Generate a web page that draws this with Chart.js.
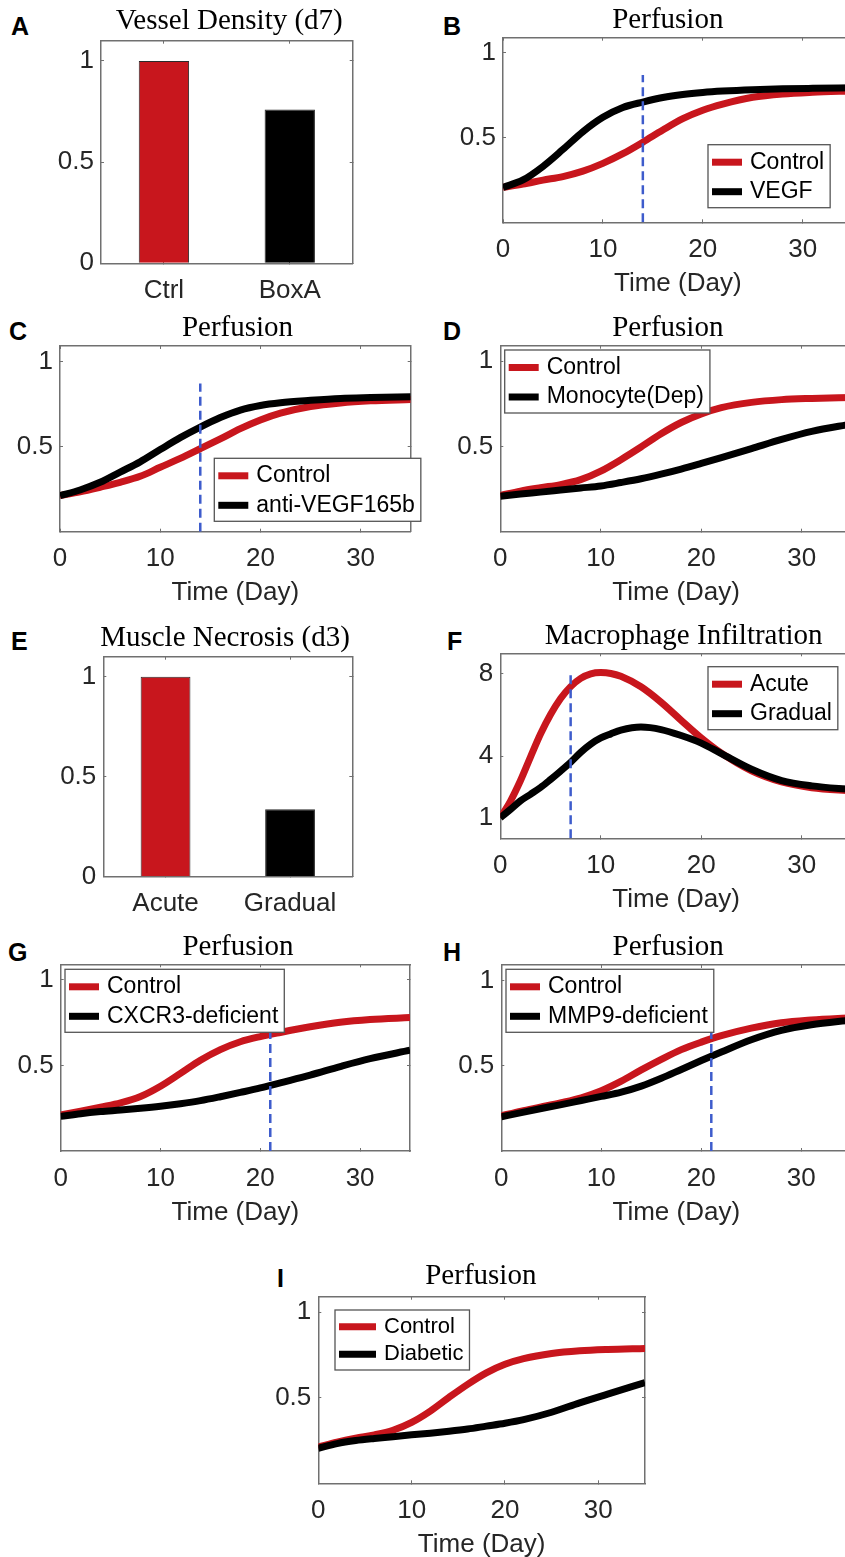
<!DOCTYPE html>
<html>
<head>
<meta charset="utf-8">
<script src="https://cdn.jsdelivr.net/npm/chart.js@4.4.1/dist/chart.umd.min.js"></script>
<style>
html, body { margin: 0; padding: 0; width: 845px; height: 1557px; overflow: hidden; background: #fff; }
canvas { position: absolute; }
.tag { position: absolute; font: bold 25px 'Liberation Sans', Arial, sans-serif; line-height: 1; color: #000; }
</style>
</head>
<body>
<div class="tag" style="left:11px;top:14px">A</div>
<div class="tag" style="left:443px;top:14px">B</div>
<div class="tag" style="left:9px;top:319px">C</div>
<div class="tag" style="left:443px;top:319px">D</div>
<div class="tag" style="left:11px;top:629px">E</div>
<div class="tag" style="left:447px;top:629px">F</div>
<div class="tag" style="left:8px;top:940px">G</div>
<div class="tag" style="left:443px;top:940px">H</div>
<div class="tag" style="left:277px;top:1266px">I</div>
<script>
// ---- data ----
const dayTicks = [0, 10, 20, 30];
const perfTicks = [0.5, 1];
const barTicks = [0, 0.5, 1];
const macTicks = [1, 4, 8];

const days = [0, 2, 4, 6, 8, 10, 12, 14, 16, 18, 20, 22, 25, 28, 31, 35];

const aLabels = ['Ctrl', 'BoxA'];
const aValues = [1, 0.76];
const eLabels = ['Acute', 'Gradual'];
const eValues = [1, 0.337];

const bControl = [0.206, 0.226, 0.249, 0.270, 0.302, 0.348, 0.405, 0.473, 0.545, 0.612, 0.662, 0.698, 0.738, 0.758, 0.768, 0.776];
const bVEGF    = [0.206, 0.250, 0.330, 0.430, 0.535, 0.620, 0.678, 0.710, 0.737, 0.755, 0.767, 0.775, 0.783, 0.788, 0.791, 0.794];

const cControl  = [0.212, 0.234, 0.261, 0.290, 0.325, 0.378, 0.430, 0.487, 0.545, 0.605, 0.656, 0.696, 0.735, 0.756, 0.768, 0.776];
const cAntiVEGF = [0.212, 0.245, 0.290, 0.350, 0.410, 0.482, 0.552, 0.614, 0.670, 0.714, 0.741, 0.757, 0.771, 0.782, 0.787, 0.792];

const dControl  = [0.212, 0.238, 0.258, 0.276, 0.305, 0.355, 0.422, 0.496, 0.574, 0.640, 0.690, 0.727, 0.758, 0.774, 0.781, 0.787];
const dMonocyte = [0.208, 0.221, 0.232, 0.244, 0.256, 0.268, 0.288, 0.310, 0.337, 0.367, 0.400, 0.434, 0.487, 0.541, 0.588, 0.632];

const fDays    = [0, 1, 2, 3, 4, 5, 6, 7, 8, 9, 10, 11, 12, 14, 16, 18, 20, 22, 25, 28, 31, 35];
const fAcute   = [1.0, 1.8, 2.8, 3.95, 5.07, 6.02, 6.8, 7.38, 7.78, 8.0, 8.06, 8.02, 7.88, 7.37, 6.62, 5.74, 4.88, 4.14, 3.28, 2.74, 2.46, 2.30];
const fGradual = [1.0, 1.4, 1.82, 2.14, 2.47, 2.86, 3.27, 3.7, 4.18, 4.58, 4.88, 5.08, 5.26, 5.41, 5.29, 5.0, 4.63, 4.12, 3.36, 2.81, 2.55, 2.37];

const gControl = [0.210, 0.232, 0.256, 0.281, 0.318, 0.378, 0.453, 0.530, 0.592, 0.638, 0.668, 0.692, 0.725, 0.752, 0.768, 0.779];
const gCXCR3   = [0.202, 0.218, 0.230, 0.239, 0.249, 0.261, 0.276, 0.294, 0.317, 0.342, 0.368, 0.398, 0.443, 0.493, 0.539, 0.588];

const hControl = [0.206, 0.234, 0.258, 0.283, 0.312, 0.353, 0.409, 0.475, 0.537, 0.594, 0.638, 0.676, 0.720, 0.752, 0.768, 0.781];
const hMMP9    = [0.200, 0.225, 0.249, 0.272, 0.296, 0.320, 0.345, 0.380, 0.426, 0.478, 0.530, 0.580, 0.652, 0.707, 0.740, 0.768];

const iControl  = [0.212, 0.240, 0.264, 0.283, 0.310, 0.356, 0.422, 0.502, 0.578, 0.645, 0.695, 0.728, 0.758, 0.774, 0.782, 0.788];
const iDiabetic = [0.204, 0.232, 0.250, 0.262, 0.272, 0.283, 0.293, 0.304, 0.317, 0.334, 0.351, 0.372, 0.415, 0.470, 0.521, 0.588];

// dashed marker: [day, top of line]
const bMark = [14, 0.87];
const cMark = [14, 0.87];
const fMark = [7, 8.05];
const gMark = [21, 0.71];
const hMark = [21, 0.71];

// ---- look ----
const RED = '#c8161d', BLACK = '#000000', BLUE = '#3e5ccc';
const AXIS = '#707070', TEXT = '#262626';
const SANS = "'Liberation Sans', Arial, sans-serif";
const SERIF = "'Liberation Serif', 'Times New Roman', serif";
const YW = 60, XAXIS_H = 77, TITLE_FS = 29, LW = 7;

// matlab style legend box inside the axes
const boxLegend = {
  id: 'boxLegend',
  afterDatasetsDraw(chart, args, opts) {
    if (opts.left === undefined) return;
    const {ctx, chartArea} = chart;
    const items = chart.data.datasets.filter(d => d.label);
    const rows = opts.rows || [17.5, 47];
    const textX = opts.textX || 42, sample = opts.sample || 30;
    ctx.save();
    ctx.font = (opts.size || 23) + 'px ' + SANS;
    const tw = Math.max(...items.map(d => ctx.measureText(d.label).width));
    const x = chartArea.left + opts.left, y = chartArea.top + opts.top;
    const w = textX + tw + 6, h = opts.height || 63;
    ctx.fillStyle = '#fff';
    ctx.fillRect(x, y, w, h);
    ctx.strokeStyle = '#555';
    ctx.lineWidth = 1.3;
    ctx.strokeRect(x, y, w, h);
    items.forEach((d, i) => {
      const ry = y + rows[i];
      ctx.strokeStyle = d.borderColor;
      ctx.lineWidth = d.borderWidth;
      ctx.beginPath();
      ctx.moveTo(x + 4, ry);
      ctx.lineTo(x + 4 + sample, ry);
      ctx.stroke();
      ctx.fillStyle = '#000';
      ctx.textBaseline = 'middle';
      ctx.fillText(d.label, x + textX, ry);
    });
    ctx.restore();
  }
};
Chart.register(boxLegend);

// canvas placement so the plot box lands on box {l,t,r,b}
// and the (full width) title is centred on tc
function frame(box, tc, gap) {
  const titleH = TITLE_FS * 1.2 + gap;
  const rw = 2 * tc - box.l - box.r + YW;   // empty right axis used as spacer
  const cl = Math.floor(box.l - YW - 6);
  const ct = Math.floor(box.t - titleH);
  const cw = Math.ceil(box.r + rw + 2 - cl);
  const ch = Math.ceil(box.b + XAXIS_H - ct);
  return {
    cl, ct, cw, ch, rw,
    padding: { left: box.l - YW - cl, top: box.t - ct - titleH, right: cl + cw - box.r - rw, bottom: ct + ch - XAXIS_H - box.b }
  };
}

function makeCanvas(f) {
  const c = document.createElement('canvas');
  c.width = f.cw;
  c.height = f.ch;
  c.style.left = f.cl + 'px';
  c.style.top = f.ct + 'px';
  document.body.appendChild(c);
  return c;
}

function titleOpts(text, gap) {
  return { display: true, text, color: '#000', font: { family: SERIF, size: TITLE_FS, weight: 'normal' }, padding: { top: 0, bottom: gap } };
}

const tickFont = { family: SANS, size: 26 };

function edge(position, min, max, vals, show, size) {
  const horiz = position === 'top' || position === 'bottom';
  return {
    type: 'linear', position, min, max,
    afterBuildTicks: s => { s.ticks = vals.map(v => ({ value: v })); },
    afterFit: s => { if (horiz) s.height = size; else s.width = size; },
    grid: { drawOnChartArea: false, tickLength: -3, color: AXIS, lineWidth: 1 },
    border: { color: AXIS, width: 1.5 },
    ticks: { display: show, padding: horiz ? 15 : 10, maxRotation: 0, color: TEXT, font: tickFont, callback: v => String(v) }
  };
}

function linePanel(p) {
  const f = frame(p.box, p.tc, p.gap);
  const ds = p.series.map(s => ({
    label: s.label,
    data: s.x.map((d, i) => ({ x: d, y: s.y[i] })),
    borderColor: s.color, borderWidth: LW, pointRadius: 0,
    cubicInterpolationMode: 'monotone', clip: 0, order: s.order
  }));
  if (p.mark) {
    ds.push({
      data: [{ x: p.mark[0], y: p.yMin }, { x: p.mark[0], y: p.mark[1] }],
      borderColor: BLUE, borderWidth: 2.5, borderDash: [9, 5], pointRadius: 0, clip: 0, order: 0
    });
  }
  const xAxis = edge('bottom', 0, 35, dayTicks, true, XAXIS_H);
  xAxis.title = { display: true, text: 'Time (Day)', color: TEXT, font: tickFont, padding: 0 };
  new Chart(makeCanvas(f), {
    type: 'line',
    data: { datasets: ds },
    options: {
      responsive: false, animation: false, events: [],
      layout: { padding: f.padding },
      plugins: { legend: { display: false }, tooltip: { enabled: false }, title: titleOpts(p.title, p.gap), boxLegend: p.legend },
      scales: {
        x: xAxis,
        y: edge('left', p.yMin, p.yMax, p.yTicks, true, YW),
        x2: edge('top', 0, 35, dayTicks, false, 0),
        y2: edge('right', p.yMin, p.yMax, p.yTicks, false, f.rw)
      }
    }
  });
}

function barPanel(p) {
  const f = frame(p.box, p.tc, p.gap);
  const cat = (position, show, size) => ({
    type: 'category', position, labels: p.labels, offset: true,
    afterFit: s => { s.height = size; },
    grid: { offset: false, drawOnChartArea: false, tickLength: -3, color: AXIS, lineWidth: 1 },
    border: { color: AXIS, width: 1.5 },
    ticks: { display: show, padding: 15, maxRotation: 0, color: TEXT, font: tickFont }
  });
  new Chart(makeCanvas(f), {
    type: 'bar',
    data: {
      labels: p.labels,
      datasets: [{ data: p.values, backgroundColor: [RED, BLACK], borderColor: '#2b2b2b', borderWidth: 1, barPercentage: 0.4, categoryPercentage: 1 }]
    },
    options: {
      responsive: false, animation: false, events: [],
      layout: { padding: f.padding },
      plugins: { legend: { display: false }, tooltip: { enabled: false }, title: titleOpts(p.title, p.gap), boxLegend: false },
      scales: {
        x: cat('bottom', true, XAXIS_H),
        y: edge('left', 0, 1.1, barTicks, true, YW),
        x2: cat('top', false, 0),
        y2: edge('right', 0, 1.1, barTicks, false, f.rw)
      }
    }
  });
}

function pair(ctrlVals, ctrlLabel, otherVals, otherLabel, x) {
  return [
    { label: ctrlLabel, x: x || days, y: ctrlVals, color: RED, order: 2 },
    { label: otherLabel, x: x || days, y: otherVals, color: BLACK, order: 1 }
  ];
}

barPanel({ title: 'Vessel Density (d7)', box: { l: 101, t: 40.7, r: 352.7, b: 263.3 }, tc: 229.2, gap: 2.4, labels: aLabels, values: aValues });
barPanel({ title: 'Muscle Necrosis (d3)', box: { l: 103.3, t: 656.7, r: 352.3, b: 876.7 }, tc: 225, gap: 0.8, labels: eLabels, values: eValues });

linePanel({ title: 'Perfusion', box: { l: 503, t: 37.7, r: 852.6, b: 222.3 }, tc: 667.8, gap: 0,
  yMin: 0, yMax: 1.09, yTicks: perfTicks, mark: bMark,
  series: pair(bControl, 'Control', bVEGF, 'VEGF'), legend: { left: 205, top: 107 } });

linePanel({ title: 'Perfusion', box: { l: 60, t: 346, r: 410.7, b: 531.7 }, tc: 237.5, gap: 0,
  yMin: 0, yMax: 1.09, yTicks: perfTicks, mark: cMark,
  series: pair(cControl, 'Control', cAntiVEGF, 'anti-VEGF165b'), legend: { left: 154.3, top: 112.3 } });

linePanel({ title: 'Perfusion', box: { l: 500.3, t: 345.7, r: 852, b: 531.7 }, tc: 667.8, gap: 0,
  yMin: 0, yMax: 1.09, yTicks: perfTicks,
  series: pair(dControl, 'Control', dMonocyte, 'Monocyte(Dep)'), legend: { left: 4.4, top: 4.3 } });

linePanel({ title: 'Macrophage Infiltration', box: { l: 500.3, t: 653.3, r: 852, b: 838.3 }, tc: 683.7, gap: 0,
  yMin: 0, yMax: 9, yTicks: macTicks, mark: fMark,
  series: pair(fAcute, 'Acute', fGradual, 'Gradual', fDays), legend: { left: 207.7, top: 13.4 } });

linePanel({ title: 'Perfusion', box: { l: 60.7, t: 964.3, r: 410, b: 1151 }, tc: 238, gap: 0,
  yMin: 0, yMax: 1.09, yTicks: perfTicks, mark: gMark,
  series: pair(gControl, 'Control', gCXCR3, 'CXCR3-deficient'), legend: { left: 4.3, top: 5 } });

linePanel({ title: 'Perfusion', box: { l: 501.3, t: 965, r: 851.3, b: 1151 }, tc: 668.2, gap: 0,
  yMin: 0, yMax: 1.09, yTicks: perfTicks, mark: hMark,
  series: pair(hControl, 'Control', hMMP9, 'MMP9-deficient'), legend: { left: 4.7, top: 4.3 } });

linePanel({ title: 'Perfusion', box: { l: 318.3, t: 1296.7, r: 645, b: 1483.3 }, tc: 480.8, gap: 3,
  yMin: 0, yMax: 1.09, yTicks: perfTicks,
  series: pair(iControl, 'Control', iDiabetic, 'Diabetic'),
  legend: { left: 16.7, top: 13.3, rows: [16.7, 44.3], height: 60, sample: 37, textX: 49, size: 22 } });
</script>
</body>
</html>
